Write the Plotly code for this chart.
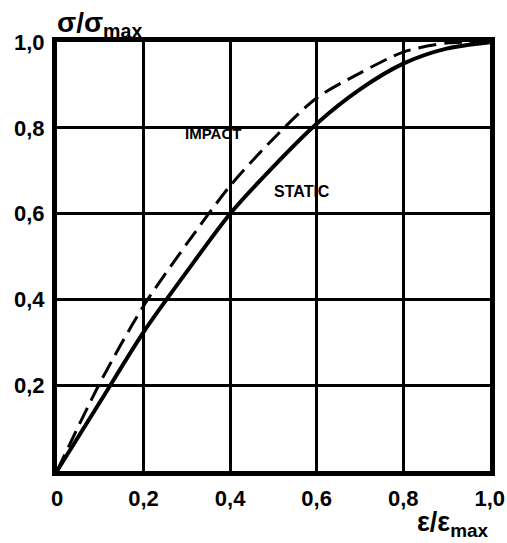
import plotly.graph_objects as go

strain = [0.0, 0.1, 0.2, 0.3, 0.4, 0.5, 0.6, 0.7, 0.8, 0.9, 1.0]
static = [0.0, 0.162, 0.324, 0.465, 0.60, 0.71, 0.81, 0.89, 0.95, 0.985, 1.0]
impact = [0.0, 0.207, 0.385, 0.53, 0.665, 0.775, 0.87, 0.928, 0.977, 0.998, 1.0]

tick_vals = [0.0, 0.2, 0.4, 0.6, 0.8, 1.0]
x_tick_text = ["0", "0,2", "0,4", "0,6", "0,8", "1,0"]
y_tick_text = ["", "0,2", "0,4", "0,6", "0,8", "1,0"]

FONT = "Liberation Sans, Arial, sans-serif"

fig = go.Figure()
fig.add_trace(go.Scatter(x=strain, y=static, mode="lines",
                         line=dict(color="black", width=4, shape="spline", smoothing=0.8),
                         name="STATIC", showlegend=False))
fig.add_trace(go.Scatter(x=strain, y=impact, mode="lines",
                         line=dict(color="black", width=3, shape="spline", smoothing=0.8, dash="18px,8px"),
                         name="IMPACT", showlegend=False))

fig.add_annotation(x=0.36, y=0.788, text="<b>IMPACT</b>", showarrow=False,
                   font=dict(size=15, family=FONT, color="black"))
fig.add_annotation(x=0.566, y=0.653, text="<b>STATIC</b>", showarrow=False,
                   font=dict(size=16, family=FONT, color="black"))
fig.add_annotation(xref="paper", yref="paper", x=-0.005, y=0.995, xanchor="left", yanchor="bottom",
                   text="<b>σ/σ<sub>max</sub></b>", showarrow=False,
                   font=dict(size=28, family=FONT, color="black"))
fig.add_annotation(xref="paper", yref="paper", x=1.0, y=-0.08, xanchor="right", yanchor="top",
                   text="<b>ε/ε<sub>max</sub></b>", showarrow=False,
                   font=dict(size=27, family=FONT, color="black"))

fig.update_xaxes(range=[0, 1.0005], tickvals=tick_vals, ticktext=x_tick_text, showgrid=True,
                 gridcolor="black", gridwidth=2.5, showline=True, linecolor="black", linewidth=5,
                 mirror=True, zeroline=False, ticks="", ticklabelstandoff=4, automargin=False,
                 tickfont=dict(size=22, family=FONT, color="black", weight="bold"))
fig.update_yaxes(range=[0, 1.0005], tickvals=tick_vals, ticktext=y_tick_text, showgrid=True,
                 gridcolor="black", gridwidth=2.5, showline=True, linecolor="black", linewidth=5,
                 mirror=True, zeroline=False, ticks="", ticklabelstandoff=3, automargin=False,
                 tickfont=dict(size=22, family=FONT, color="black", weight="bold"))

fig.update_layout(width=507, height=543, margin=dict(l=57, r=17, t=42, b=72),
                  plot_bgcolor="white", paper_bgcolor="white")
fig.write_html("out.html")
